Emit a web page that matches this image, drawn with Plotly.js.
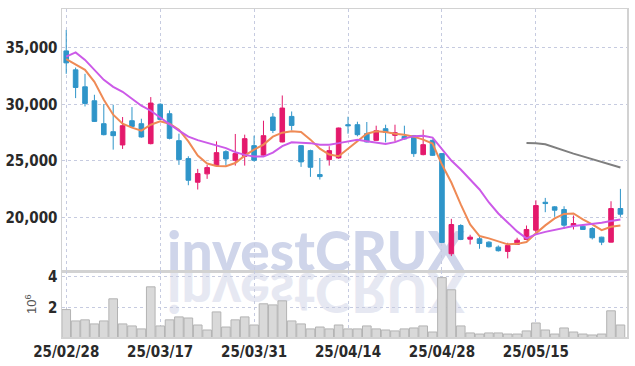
<!DOCTYPE html>
<html>
<head>
<meta charset="utf-8">
<script src="https://cdn.plot.ly/plotly-3.0.1.min.js"></script>
<style>
  html, body { margin: 0; padding: 0; background: #ffffff; }
  #wrap { position: relative; width: 635px; height: 366px; }
  #wm { position: absolute; left: 0; top: 0; z-index: 0; }
  #wm text { font-family: Lato, Roboto, 'DejaVu Sans', sans-serif; font-weight: 900; font-size: 55px; }
  #chart { position: absolute; left: 0; top: 0; width: 635px; height: 366px; z-index: 1; }
</style>
</head>
<body>
<div id="wrap">
  <svg id="wm" width="635" height="366" xmlns="http://www.w3.org/2000/svg">
    <text x="316" y="271" text-anchor="middle" fill="#cfd5ea">investCRUX</text>
    <text x="316" y="273" text-anchor="middle" fill="#e6e8f2" transform="translate(0,546) scale(1,-1)">investCRUX</text>
  </svg>
  <div id="chart"></div>
</div>
<script>
// Trading days (YY/MM/DD)
const dates = [
  "25/02/28","25/03/04","25/03/05","25/03/06","25/03/07","25/03/10","25/03/11","25/03/12","25/03/13","25/03/14",
  "25/03/17","25/03/18","25/03/19","25/03/20","25/03/21","25/03/24","25/03/25","25/03/26","25/03/27","25/03/28",
  "25/03/31","25/04/01","25/04/02","25/04/03","25/04/04","25/04/07","25/04/08","25/04/09","25/04/10","25/04/11",
  "25/04/14","25/04/15","25/04/16","25/04/17","25/04/18","25/04/21","25/04/22","25/04/23","25/04/24","25/04/25",
  "25/04/28","25/04/29","25/04/30","25/05/02","25/05/07","25/05/08","25/05/09","25/05/12","25/05/13","25/05/14",
  "25/05/15","25/05/16","25/05/19","25/05/20","25/05/21","25/05/22","25/05/23","25/05/26","25/05/27","25/05/28"
];
const openP = [
  34735,33060,31560,30325,28297,27590,26418,28561,28297,26534,
  30017,29179,26797,25210,23120,23860,24592,25827,25060,25413,
  26356,25518,28888,26683,28941,26356,25915,23799,25122,25271,
  28209,28209,27415,26824,27856,27265,27177,27238,25563,26826,
  25651,16798,19294,18086,18121,17822,17381,17001,17619,18060,
  18880,21350,20944,20706,19294,19233,19030,18262,17822,20794
];
const highP = [
  36588,33260,32707,30855,30034,29973,28888,29770,28738,30652,
  30100,29470,27415,25415,24301,24654,26735,25950,27388,27327,
  27238,28561,29240,30793,29380,26400,26000,25265,26300,27950,
  28914,28473,28447,28120,28209,28209,28120,27300,27768,26900,
  25700,19885,19410,18474,18300,17900,17530,17769,18210,19294,
  21526,21735,21000,20997,20176,19350,19150,18300,21438,22531
];
const lowP = [
  32707,30560,29823,28450,27265,26004,26065,28000,27060,26470,
  28600,26910,24654,22855,22476,23420,24480,24590,24590,24590,
  24950,25480,27470,26650,27706,24477,23596,23358,24590,25200,
  27415,27180,26650,26800,26648,26710,26900,25359,25500,25450,
  17750,16587,18000,17619,17239,17350,16990,16384,17580,18000,
  18677,20470,20062,19003,18942,18900,18060,17557,17800,20062
];
const closeP = [
  33677,31500,30090,28500,27327,27240,28120,28060,27124,30122,
  28676,27000,25122,23296,23887,24416,25739,25180,25651,26974,
  25060,27238,27706,29681,28147,24920,24446,23620,25915,27917,
  28120,27327,26683,27679,27530,27503,26947,25651,26444,25500,
  17800,19383,18060,18262,17707,17416,17063,17530,17998,18942,
  21058,21235,20647,19321,19471,18942,18210,17822,20794,20291
];
// Moving averages
const ma5 = [
  34004,33501,33060,32002,30415,29092,28298,27945,27681,28210,
  28501,28298,27769,26737,25476,24771,24550,24533,24815,25476,
  26005,26446,27152,27504,27619,27566,26887,26094,25565,25415,
  26094,26737,27416,27619,27566,27416,27328,27152,26887,26534,
  24682,23095,21155,19391,18359,18157,17892,17627,17671,17830,
  18598,19303,19920,20317,20361,19832,19391,18889,19189,19303
];
const ma20 = [
  34233,34603,33942,33060,32178,31561,31120,30503,29885,29444,
  28827,28254,27681,27152,26843,26623,26358,26138,25785,25538,
  25388,25388,25741,26314,26649,26623,26579,26446,26446,26579,
  26755,26887,26755,26623,26508,26667,26975,27196,27240,27064,
  26005,25035,24242,23360,22478,21331,20361,19567,18774,18157,
  18510,18730,18889,19083,19259,19347,19435,19541,19700,19832
];
const ma60 = [
  null,null,null,null,null,null,null,null,null,null,
  null,null,null,null,null,null,null,null,null,null,
  null,null,null,null,null,null,null,null,null,null,
  null,null,null,null,null,null,null,null,null,null,
  null,null,null,null,null,null,null,null,null,26596,
  26578,26473,26182,25890,25652,25406,25167,24920,24665,24418
];
const volume = [
  1890000,1160000,1230000,970000,1160000,2580000,970000,840000,650000,3350000,
  840000,1230000,1420000,1350000,900000,580000,1740000,770000,1230000,1420000,
  900000,2260000,2190000,2450000,1160000,970000,650000,770000,650000,900000,
  650000,650000,840000,650000,580000,520000,650000,710000,840000,450000,
  3940000,3160000,840000,390000,320000,390000,390000,320000,320000,520000,
  1030000,580000,320000,710000,450000,320000,260000,320000,1810000,900000
];
const tickIdx = [0, 10, 20, 30, 40, 50];
const tickVals = tickIdx.map(i => dates[i]);

const tickFont = {family: "'Liberation Sans Narrow', 'DejaVu Sans Condensed', 'Roboto', sans-serif", size: 15, color: '#2a2a2a', weight: 600};
const gridCol = '#c6cbe0';
const lineCol = '#d2d2d2';

const traces = [
  {
    type: 'candlestick', x: dates, open: openP, high: highP, low: lowP, close: closeP,
    xaxis: 'x', yaxis: 'y',
    increasing: {line: {color: '#e4196c', width: 1}, fillcolor: '#e4196c'},
    decreasing: {line: {color: '#2f95c9', width: 1}, fillcolor: '#2f95c9'},
    whiskerwidth: 0, hoverinfo: 'skip', showlegend: false
  },
  {type: 'scatter', mode: 'lines', x: dates, y: ma5, xaxis: 'x', yaxis: 'y',
   line: {color: '#ef8a55', width: 2}, hoverinfo: 'skip', showlegend: false},
  {type: 'scatter', mode: 'lines', x: dates, y: ma20, xaxis: 'x', yaxis: 'y',
   line: {color: '#cc5ae8', width: 2}, hoverinfo: 'skip', showlegend: false},
  {type: 'scatter', mode: 'lines', x: dates, y: ma60, xaxis: 'x', yaxis: 'y',
   line: {color: '#7f7f7f', width: 2}, hoverinfo: 'skip', showlegend: false, connectgaps: false},
  {type: 'bar', x: dates, y: volume, xaxis: 'x', yaxis: 'y2',
   marker: {color: '#d9d9d9', line: {color: '#b3b3b3', width: 1}},
   hoverinfo: 'skip', showlegend: false}
];

const layout = {
  width: 635, height: 366,
  margin: {l: 62, r: 8, t: 9, b: 29, pad: 0},
  paper_bgcolor: 'rgba(0,0,0,0)', plot_bgcolor: 'rgba(0,0,0,0)',
  showlegend: false, bargap: 0.08, boxgap: 0.3,
  xaxis: {
    type: 'category', range: [-0.45, 59.7], anchor: 'y2',
    tickmode: 'array', tickvals: tickVals, ticktext: tickVals,
    showgrid: true, gridcolor: gridCol, griddash: 'dot', gridwidth: 1,
    showline: true, mirror: 'all', linecolor: lineCol, linewidth: 1.5,
    ticks: '', tickfont: tickFont, rangeslider: {visible: false}, fixedrange: true
  },
  yaxis: {
    domain: [0.2, 1], range: [15235, 38441],
    tickmode: 'array', tickvals: [20000, 25000, 30000, 35000], tickformat: ',',
    showgrid: true, gridcolor: gridCol, griddash: 'dot', gridwidth: 1,
    showline: true, mirror: 'all', linecolor: lineCol, linewidth: 1.5,
    zeroline: false, ticks: '', tickfont: tickFont, fixedrange: true
  },
  yaxis2: {
    domain: [0, 0.2], range: [130000, 4340000],
    tickmode: 'array', tickvals: [2000000, 4000000], ticktext: ['2', '4'],
    showgrid: true, gridcolor: gridCol, griddash: 'dot', gridwidth: 1,
    showline: true, mirror: 'all', linecolor: lineCol, linewidth: 1.5,
    zeroline: false, ticks: '', tickfont: tickFont, fixedrange: true,
    title: {text: '10<sup>6</sup>', font: {family: "'Liberation Sans', 'DejaVu Sans', sans-serif", size: 13, color: '#555555'}, standoff: 8}
  }
};

Plotly.newPlot('chart', traces, layout, {displayModeBar: false, staticPlot: true});
</script>
</body>
</html>
